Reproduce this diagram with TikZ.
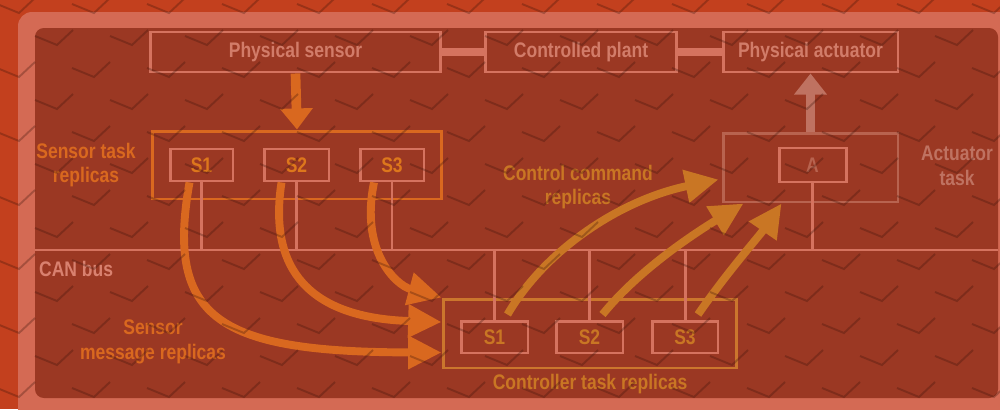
\documentclass[tikz,border=0pt]{standalone}
\usepackage{fontspec}
\setmainfont{Liberation Sans}[FakeStretch=0.83]
\usetikzlibrary{arrows.meta,calc}

\definecolor{bgred}{HTML}{C3401E}
\definecolor{framepink}{HTML}{D46A54}
\definecolor{panel}{HTML}{9B3823}
\definecolor{salmon}{HTML}{D5735F}
\definecolor{boxtext}{HTML}{D27C69}
\definecolor{fadesalmon}{HTML}{B8634F}
\definecolor{hotorange}{HTML}{D9681F}
\definecolor{amber}{HTML}{C97624}

\begin{document}
\begin{tikzpicture}[x=0.02cm, y=-0.02cm,
    font=\fontsize{12}{14}\selectfont\bfseries,
    box/.style={rectangle, draw=salmon, line width=1.7pt, text=boxtext},
    rep/.style={rectangle, draw=salmon, line width=1.7pt, minimum height=0.64cm},
    wire/.style={draw=salmon, line width=1.7pt},
    fat/.style={line width=5.5pt, -{Triangle[width=18pt, length=12pt]}},
    curvy/.style={line width=4.5pt, -{Triangle[width=18pt, length=19pt]}},
    chevron/.style={draw=black!70!bgred, line width=1.1pt, opacity=0.3}]
    \useasboundingbox (0,0) rectangle (1000,409);

    % paper: red ground, light frame, dark panel
    \fill[bgred] (0,0) rectangle (1000,409);
    \fill[framepink, rounded corners=8] (18,12) rectangle (1012,422);
    \fill[panel, rounded corners=5] (35,28) rectangle (998,398);

    % plant row
    \node[box, minimum width=5.82cm, minimum height=0.8cm] (sensor) at (295.5,52) {Physical sensor};
    \node[box, minimum width=3.84cm, minimum height=0.8cm] (plant) at (581,52) {Controlled plant};
    \node[box, minimum width=3.5cm, minimum height=0.8cm] (actuator) at (810.5,52) {Physical actuator};
    \draw[salmon, line width=4pt] (sensor) -- (plant);
    \draw[salmon, line width=4pt] (plant) -- (actuator);

    % sensor task replicas
    \node[rectangle, draw=hotorange, line width=1.7pt, minimum width=5.8cm, minimum height=1.36cm] (sensortask) at (297,165) {};
    \node[rep, minimum width=1.26cm, text=hotorange!90!yellow] (s1) at (201.5,165) {S1};
    \node[rep, minimum width=1.3cm, text=hotorange!90!yellow] (s2) at (296.5,165) {S2};
    \node[rep, minimum width=1.28cm, text=hotorange!90!yellow] (s3) at (392,165) {S3};
    \node[text=hotorange, align=center] (sensorlbl) at (86,165) {Sensor task\\replicas};

    % actuator task
    \node[rectangle, draw=fadesalmon, line width=1.7pt, minimum width=3.5cm, minimum height=1.38cm] (acttask) at (810.5,167.5) {};
    \node[rep, minimum width=1.34cm, minimum height=0.68cm, text=fadesalmon] (abox) at (812.5,165) {A};
    \node[text=fadesalmon!90!white, align=center] (actlbl) at (957,166) {Actuator\\task};

    % controller task replicas
    \node[rectangle, draw=amber!85!salmon, line width=1.7pt, minimum width=5.88cm, minimum height=1.38cm] (controller) at (590,333.5) {};
    \node[rep, minimum width=1.34cm, text=amber] (c1) at (494.5,337) {S1};
    \node[rep, minimum width=1.34cm, text=amber] (c2) at (589.5,337) {S2};
    \node[rep, minimum width=1.32cm, text=amber] (c3) at (685,337) {S3};
    \node[text=amber] (ctrllbl) at (590,384) {Controller task replicas};

    % CAN bus and taps
    \coordinate (busL) at (35,250);
    \coordinate (busR) at (998,250);
    \draw[wire] (busL) -- (busR);
    \node[text=salmon!90!white, anchor=west] (canlbl) at (33,269) {CAN bus};
    \foreach \n in {s1,s2,s3,abox}
        \draw[wire] (\n.south) -- (\n.south |- busL);
    \foreach \n in {c1,c2,c3}
        \draw[wire] (\n.north) -- (\n.north |- busL);

    % physical links
    \draw[fat, hotorange] (sensor.south) -- (sensortask.north);
    \draw[fat, fadesalmon!90!white] (acttask.north) -- (actuator.south);

    % sensor message replicas
    \draw[curvy, hotorange] ($(s1.south)+(-12,0)$) .. controls (165,320) and (220,352) .. ($(controller.west)+(0,19)$);
    \draw[curvy, hotorange] ($(s2.south)+(-15,0)$) .. controls (268,270) and (310,318) .. ($(controller.west)+(0,-11.5)$);
    \draw[curvy, hotorange] ($(s3.south)+(-18,0)$) .. controls (360,250) and (395,285) .. (controller.north west);
    \node[text=hotorange, align=center] (msglbl) at (153,342) {Sensor\\message replicas};

    % control command replicas
    \draw[curvy, amber] ($(c1.north)+(13,-5)$) .. controls (545,250) and (620,200) .. ($(acttask.west)+(-3,12)$);
    \draw[curvy, amber] ($(c2.north)+(13,-5)$) .. controls (640,268) and (700,230) .. ($(acttask.south west)+(22,0)$);
    \draw[curvy, amber] ($(c3.north)+(13,-5)$) .. controls (725,275) and (760,235) .. ($(acttask.south west)+(60,0)$);
    \node[text=amber, align=center] (cmdlbl) at (578,187) {Control command\\replicas};

    % herringbone texture of the paper
    \foreach \yy [count=\i] in {4,36,...,420}
        \foreach \xx in {-40,35,...,1000}
            \draw[chevron] ({\xx+mod(\i,2)*37},\yy) -- ++(22,9) -- ++(16,-15);
\end{tikzpicture}
\end{document}
